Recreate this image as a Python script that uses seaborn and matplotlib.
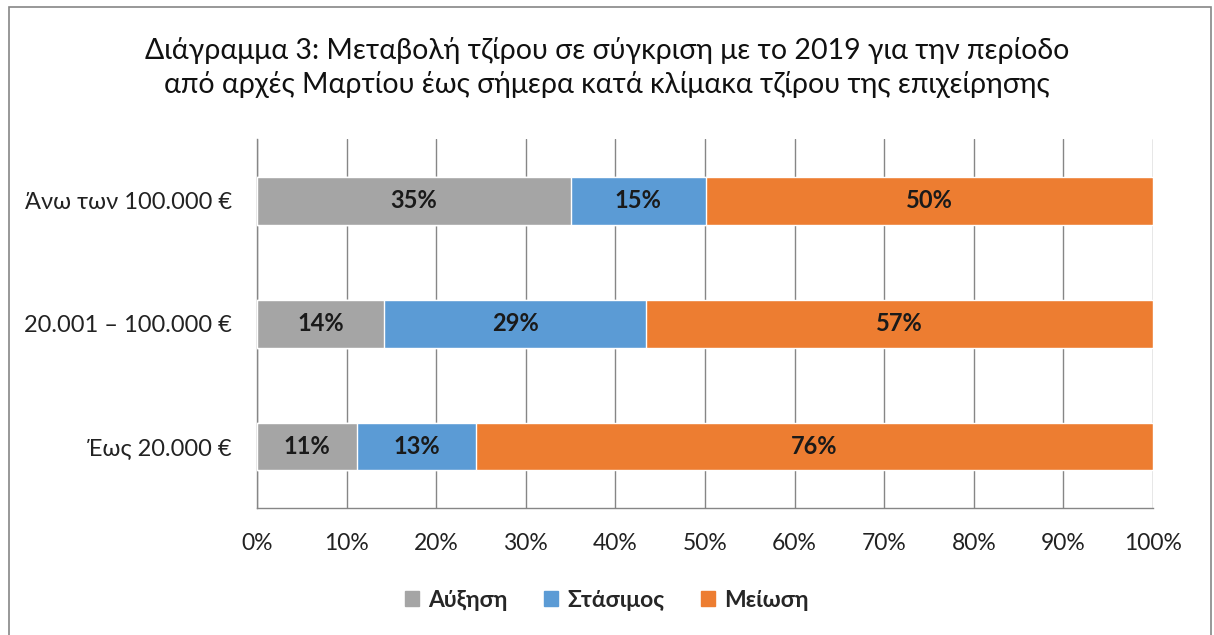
import matplotlib.pyplot as plt
import matplotlib.patches as mpatches
import numpy as np
import pandas as pd
import seaborn as sns

categories = ["Άνω των 100.000 €", "20.001 – 100.000 €", "Έως 20.000 €"]
series_names = ["Αύξηση", "Στάσιμος", "Μείωση"]
increase = [35.0, 14.2, 11.2]
stable = [15.1, 29.2, 13.2]
decrease = [49.9, 56.6, 75.6]
colors = ["#A5A5A5", "#5B9BD5", "#ED7D31"]
x_ticks = [0, 10, 20, 30, 40, 50, 60, 70, 80, 90, 100]

sns.set_style("white")
plt.rcParams["font.family"] = ["Lato", "Open Sans", "DejaVu Sans"]

df = pd.DataFrame({"cat": categories, "Αύξηση": increase,
                   "Στάσιμος": stable, "Μείωση": decrease})
cum = df[series_names].cumsum(axis=1)

fig = plt.figure(figsize=(12.14, 6.35), dpi=100)
ax = fig.add_axes([0.2117, 0.2, 0.7381, 0.581])

# overlay cumulative totals, widest first
for name, col in zip(reversed(series_names), reversed(colors)):
    sns.barplot(x=cum[name], y=df["cat"], color=col, width=0.39,
                saturation=1, ax=ax, orient="h", zorder=3)

for i in range(len(categories)):
    start = 0
    for name in series_names:
        v = df.loc[i, name]
        ax.text(start + v / 2, i, f"{v:.0f}%", ha="center", va="center",
                fontsize=17, fontweight="bold", color="#1a1a1a", zorder=5)
        start += v

ax.set_xlim(0, 100)
ax.set_ylim(2.5, -0.5)
ax.set_xticks(x_ticks)
ax.set_xticklabels([f"{t}%" for t in x_ticks], fontsize=16.5, color="#222222")
ax.tick_params(axis="y", labelsize=17, labelcolor="#222222", length=0, pad=18)
ax.set_yticks([-0.5, 0.5, 1.5, 2.5], minor=True)
ax.tick_params(axis="y", which="minor", length=7, color="#868686", width=1)
ax.tick_params(axis="x", length=8, color="#868686", width=1, pad=10)
ax.set_xlabel("")
ax.set_ylabel("")
ax.grid(axis="x", color="#868686", linewidth=1, zorder=0)
ax.set_axisbelow(True)
for s in ["top", "right"]:
    ax.spines[s].set_visible(False)
for s in ["left", "bottom"]:
    ax.spines[s].set_color("#868686")
    ax.spines[s].set_linewidth(1)

fig.text(0.5, 0.894, "Διάγραμμα 3: Μεταβολή τζίρου σε σύγκριση με το 2019 για την περίοδο\n"
         "από αρχές Μαρτίου έως σήμερα κατά κλίμακα τζίρου της επιχείρησης",
         ha="center", va="center", fontsize=20.5, linespacing=1.3, color="#111111")

handles = [mpatches.Patch(color=c, label=n) for n, c in zip(series_names, colors)]
fig.legend(handles=handles, loc="center", bbox_to_anchor=(0.5, 0.055), ncol=3,
           frameon=False, prop={"weight": "bold", "size": 16.5},
           handlelength=0.6, handleheight=0.6, columnspacing=1.6, handletextpad=0.4)

border = mpatches.Rectangle((9 / 1214, -0.01), (1211 - 9) / 1214, 1 - 7 / 635 + 0.01,
                            transform=fig.transFigure, fill=False,
                            edgecolor="#868686", linewidth=1.2)
fig.patches.append(border)

fig.savefig("out.png", dpi=100)
